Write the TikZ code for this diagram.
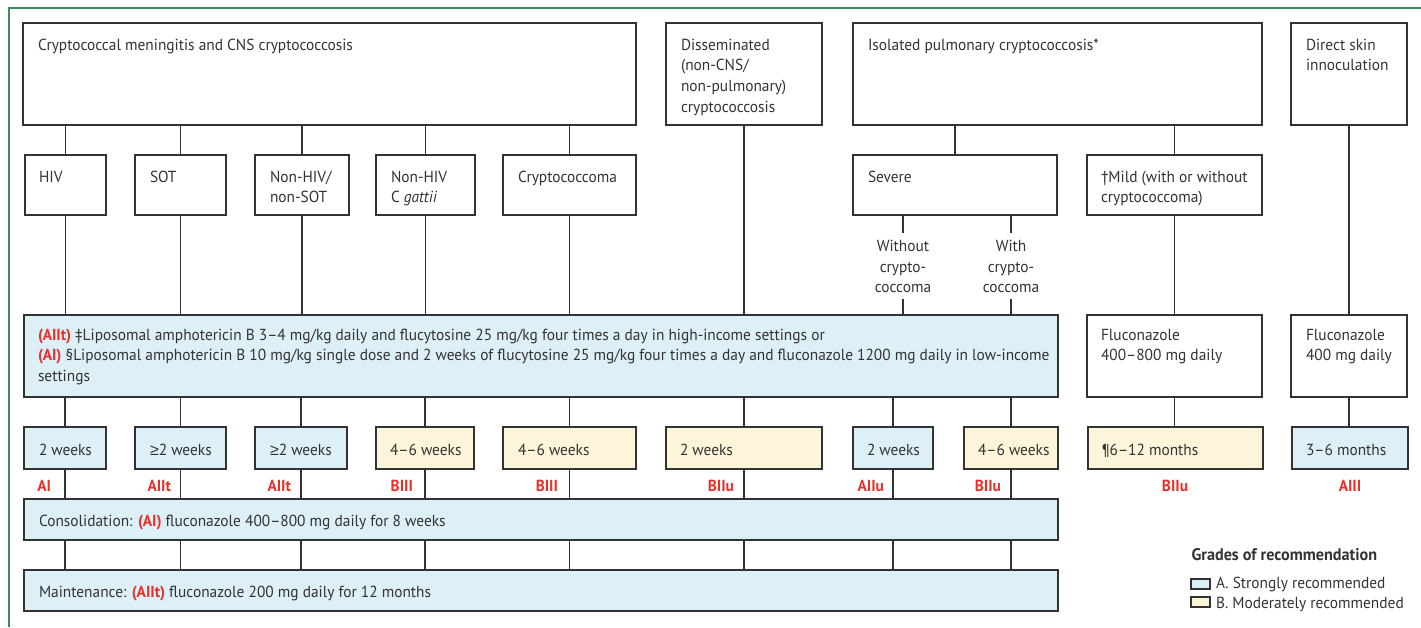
\documentclass[tikz,border=0pt]{standalone}
\usepackage{fontspec}
\setmainfont[FakeStretch=0.962]{PT Sans}
\newfontfamily\symfont{Liberation Sans}
\definecolor{bluef}{HTML}{DDEFF7}
\definecolor{yelf}{HTML}{FDF5DA}
\definecolor{gred}{HTML}{E8302A}
\definecolor{ink}{HTML}{333333}
\definecolor{framegreen}{HTML}{3D8B5C}
\newcommand{\gr}[1]{{\color{gred}\bfseries #1}}
\newcommand{\atleast}{{\symfont ≥}}
\newcommand{\mkbox}[6]{\node[#6, anchor=north west, minimum width={(#4-#2)*1pt}, minimum height={(#5-#3)*1pt}] (#1) at (#2,#3) {};}
\tikzset{
  every node/.style={inner sep=0pt, outer sep=0pt, text=ink},
  wbox/.style={draw=ink, fill=white, rectangle, line width=1.2pt},
  bbox/.style={draw=ink, fill=bluef, rectangle, line width=1.2pt},
  ybox/.style={draw=ink, fill=yelf, rectangle, line width=1.2pt},
  txt/.style={font=\fontsize{16}{20.7}\selectfont, align=left, anchor=base west},
  ctxt/.style={font=\fontsize{16}{20.7}\selectfont, align=center, anchor=base},
  conn/.style={draw=ink, line width=1.2pt},
  grade/.style={font=\fontsize{16}{20}\selectfont\bfseries, text=gred, anchor=base east},
  gradec/.style={font=\fontsize{16}{20}\selectfont\bfseries, text=gred, anchor=base},
  legt/.style={font=\fontsize{16}{18}\selectfont, anchor=base west},
}
\begin{document}
\begin{tikzpicture}[x=1pt,y=-1pt]
\useasboundingbox (0,0) rectangle (1421,627);
\draw[framegreen, line width=1.3pt] (9,627) -- (9,8) -- (1421,8);

% row 1
\mkbox{cns}{23}{23}{636}{125}{wbox}
\mkbox{dis}{666}{23}{822}{125}{wbox}
\mkbox{iso}{853}{23}{1262}{125}{wbox}
\mkbox{skin}{1291}{23}{1407}{125}{wbox}
% row 2
\mkbox{hiv}{25}{155}{106}{215}{wbox}
\mkbox{sot}{135}{155}{226}{215}{wbox}
\mkbox{nhs}{255}{155}{349}{215}{wbox}
\mkbox{ncg}{376}{155}{475}{215}{wbox}
\mkbox{cma}{503}{155}{636}{215}{wbox}
\mkbox{sev}{853}{155}{1057}{215}{wbox}
\mkbox{mild}{1087}{155}{1262}{215}{wbox}
% row 3
\mkbox{ind}{24}{315}{1058}{397}{bbox}
\mkbox{fla}{1087}{315}{1262}{397}{wbox}
\mkbox{flb}{1291}{315}{1407}{397}{wbox}
% row 4
\mkbox{wa}{24}{427}{106}{469}{bbox}
\mkbox{wb}{135}{427}{226}{469}{bbox}
\mkbox{wc}{255}{427}{347}{469}{bbox}
\mkbox{wd}{376}{427}{474}{469}{ybox}
\mkbox{we}{503}{427}{636}{469}{ybox}
\mkbox{wf}{666}{427}{822}{469}{ybox}
\mkbox{wg}{853}{427}{933}{469}{bbox}
\mkbox{wh}{964}{427}{1058}{469}{ybox}
\mkbox{wi}{1088}{427}{1263}{469}{ybox}
\mkbox{wj}{1292}{427}{1408}{469}{bbox}
% rows 5,6
\mkbox{con}{24}{499}{1058}{540}{bbox}
\mkbox{mnt}{24}{570}{1058}{611}{bbox}

% texts (base anchor of a multi-line node = baseline of its last line)
\node[txt] (tcns) at (38,50) {Cryptococcal meningitis and CNS cryptococcosis};
\node[txt] (tdis) at (681,112.1) {Disseminated\\(non-CNS/\\non-pulmonary)\\cryptococcosis};
\node[txt] (tiso) at (868,50) {Isolated pulmonary cryptococcosis*};
\node[txt] (tskin) at (1306,70.7) {Direct skin\\innoculation};
\node[txt] (thiv) at (39,182) {HIV};
\node[txt] (tsot) at (150,182) {SOT};
\node[txt] (tnhs) at (270,202.7) {Non-HIV/\\non-SOT};
\node[txt] (tncg) at (391,202.7) {Non-HIV\\C \textit{gattii}};
\node[txt] (tcma) at (518,182) {Cryptococcoma};
\node[txt] (tsev) at (868,182) {Severe};
\node[txt] (tmild) at (1101,202.7) {†Mild (with or without\\cryptococcoma)};
\node[txt] (tind) at (38,381.4) {\gr{(AIIt)} ‡Liposomal amphotericin B 3–4 mg/kg daily and flucytosine 25 mg/kg four times a day in high-income settings or\\\gr{(AI)} §Liposomal amphotericin B 10 mg/kg single dose and 2 weeks of flucytosine 25 mg/kg four times a day and fluconazole 1200 mg daily in low-income\\settings};
\node[txt] (tfla) at (1101,360.7) {Fluconazole\\400–800 mg daily};
\node[txt] (tflb) at (1306,360.7) {Fluconazole\\400 mg daily};
\node[txt] (twa) at (39,455) {2 weeks};
\node[txt] (twb) at (150,455) {\atleast2 weeks};
\node[txt] (twc) at (270,455) {\atleast2 weeks};
\node[txt] (twd) at (390,455) {4–6 weeks};
\node[txt] (twe) at (518,455) {4–6 weeks};
\node[txt] (twf) at (680,455) {2 weeks};
\node[txt] (twg) at (867,455) {2 weeks};
\node[txt] (twh) at (978,455) {4–6 weeks};
\node[txt] (twi) at (1102,455) {¶6–12 months};
\node[txt] (twj) at (1306,455) {3–6 months};
\node[txt] (tcon) at (39,526) {Consolidation: \gr{(AI)} fluconazole 400–800 mg daily for 8 weeks};
\node[txt] (tmnt) at (39,597) {Maintenance: \gr{(AIIt)} fluconazole 200 mg daily for 12 months};

% severe sub-branches
\node[ctxt] (wo) at (903,292.9) {Without\\crypto-\\coccoma};
\node[ctxt] (wt) at (1011,292.9) {With\\crypto-\\coccoma};
\coordinate (woT) at (903,233);
\coordinate (woB) at (903,299);
\coordinate (wtT) at (1011,233);
\coordinate (wtB) at (1011,299);

% grades
\node[grade] (ga) at (51,491.5) {AI};
\node[grade] (gb) at (171,491.5) {AIIt};
\node[grade] (gc) at (291,491.5) {AIIt};
\node[grade] (gd) at (413,491.5) {BIII};
\node[grade] (ge) at (558,491.5) {BIII};
\node[grade] (gf) at (734,491.5) {BIIu};
\node[grade] (gg) at (884,491.5) {AIIu};
\node[grade] (gh) at (1001,491.5) {BIIu};
\node[gradec] (gi) at (1175,491.5) {BIIu};
\node[gradec] (gj) at (1350,491.5) {AIII};

% connectors row1 -> row2
\draw[conn] (hiv.north) -- (hiv.north |- cns.south);
\draw[conn] (sot.north) -- (sot.north |- cns.south);
\draw[conn] (nhs.north) -- (nhs.north |- cns.south);
\draw[conn] (ncg.north) -- (ncg.north |- cns.south);
\draw[conn] (cma.north) -- (cma.north |- cns.south);
\draw[conn] (sev.north) -- (sev.north |- iso.south);
\draw[conn] (mild.north) -- (mild.north |- iso.south);
% row2 -> row3
\draw[conn] (hiv.south) -- (hiv.south |- ind.north);
\draw[conn] (sot.south) -- (sot.south |- ind.north);
\draw[conn] (nhs.south) -- (nhs.south |- ind.north);
\draw[conn] (ncg.south) -- (ncg.south |- ind.north);
\draw[conn] (cma.south) -- (cma.south |- ind.north);
\draw[conn] (dis.south) -- (dis.south |- ind.north);
\draw[conn] (woT |- sev.south) -- (woT);
\draw[conn] (woB) -- (woB |- ind.north);
\draw[conn] (wtT |- sev.south) -- (wtT);
\draw[conn] (wtB) -- (wtB |- ind.north);
\draw[conn] (mild.south) -- (fla.north);
\draw[conn] (skin.south) -- (flb.north);
% row3 -> row4 -> consolidation -> maintenance
\foreach \w in {wa,wb,wc,wd,we,wf,wg,wh}{
  \draw[conn] (\w.north) -- (\w.north |- ind.south);
  \draw[conn] (\w.south) -- (\w.south |- con.north);
  \draw[conn] (\w.south |- con.south) -- (\w.south |- mnt.north);
}
\draw[conn] (fla.south) -- (wi.north -| fla.south);
\draw[conn] (flb.south) -- (wj.north -| flb.south);

% legend
\node[legt, font=\fontsize{16.8}{18}\selectfont\bfseries] (lt) at (1191.5,560) {Grades of recommendation};
\mkbox{la}{1191}{579}{1210}{589}{bbox}
\mkbox{lb}{1191}{597}{1210}{607}{ybox}
\node[legt] (lat) at (1216,588) {A. Strongly recommended};
\node[legt] (lbt) at (1216,608) {B. Moderately recommended};
\end{tikzpicture}
\end{document}
